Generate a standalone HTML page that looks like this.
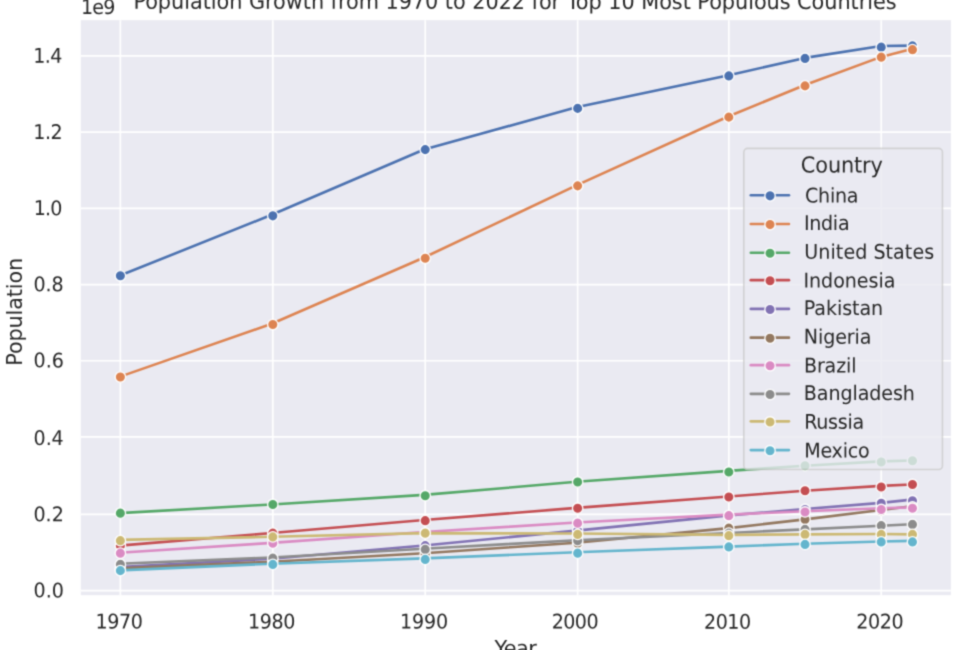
<!DOCTYPE html>
<html lang="en">
<head>
<meta charset="utf-8">
<title>Population Growth from 1970 to 2022 for Top 10 Most Populous Countries</title>
<style>
html, body { margin: 0; padding: 0; background: #ffffff; overflow: hidden; }
body { position: relative; width: 958px; height: 650px; overflow: hidden; font-family: "DejaVu Sans", "Liberation Sans", sans-serif; }
svg { display: block; position: absolute; left: -16px; top: -16px; }
</style>
</head>
<body>
<svg width="990" height="682" viewBox="-16 -16 990 682">
<defs><filter id="soften" filterUnits="userSpaceOnUse" x="-16" y="-16" width="990" height="682" color-interpolation-filters="sRGB"><feConvolveMatrix order="3" kernelMatrix="0.03422 0.11655 0.03422 0.11655 0.39690 0.11655 0.03422 0.11655 0.03422" edgeMode="duplicate" preserveAlpha="true"/></filter></defs>
<g id="chart" filter="url(#soften)">
<rect x="-16" y="-16" width="990" height="682" fill="#ffffff"/>
<rect id="axes-bg" x="80.858" y="20.146" width="870.029" height="575.03" fill="#eaeaf2"/>
<g id="grid" stroke="#ffffff" stroke-width="1.7" fill="none">
<line x1="120.375" y1="20.146" x2="120.375" y2="595.177"/>
<line x1="272.797" y1="20.146" x2="272.797" y2="595.177"/>
<line x1="425.219" y1="20.146" x2="425.219" y2="595.177"/>
<line x1="577.641" y1="20.146" x2="577.641" y2="595.177"/>
<line x1="728.813" y1="20.146" x2="728.813" y2="595.177"/>
<line x1="881.235" y1="20.146" x2="881.235" y2="595.177"/>
<line x1="80.858" y1="590.642" x2="950.887" y2="590.642"/>
<line x1="80.858" y1="514.431" x2="950.887" y2="514.431"/>
<line x1="80.858" y1="436.97" x2="950.887" y2="436.97"/>
<line x1="80.858" y1="360.759" x2="950.887" y2="360.759"/>
<line x1="80.858" y1="284.549" x2="950.887" y2="284.549"/>
<line x1="80.858" y1="208.338" x2="950.887" y2="208.338"/>
<line x1="80.858" y1="132.127" x2="950.887" y2="132.127"/>
<line x1="80.858" y1="55.916" x2="950.887" y2="55.916"/>
</g>
<g id="labels" font-family="'DejaVu Sans', 'Liberation Sans', sans-serif" fill="#262626">
<text id="t0" transform="translate(119.218 628.609) rotate(0.03) scale(1 1.06)" font-size="19.087" text-anchor="middle" textLength="47.533" lengthAdjust="spacing">1970</text>
<text id="t1" transform="translate(271.638 628.618) rotate(0.03) scale(1 1.06)" font-size="19.087" text-anchor="middle" textLength="47.533" lengthAdjust="spacing">1980</text>
<text id="t2" transform="translate(424.072 628.538) rotate(0.03) scale(1 1.06)" font-size="19.087" text-anchor="middle" textLength="47.929" lengthAdjust="spacing">1990</text>
<text id="t3" transform="translate(575.111 628.598) rotate(0.03) scale(1 1.06)" font-size="19.087" text-anchor="middle" textLength="46.898" lengthAdjust="spacing">2000</text>
<text id="t4" transform="translate(727.576 628.668) rotate(0.03) scale(1 1.06)" font-size="19.087" text-anchor="middle" textLength="47.138" lengthAdjust="spacing">2010</text>
<text id="t5" transform="translate(879.858 628.585) rotate(0.03) scale(1 1.06)" font-size="19.087" text-anchor="middle" textLength="47.379" lengthAdjust="spacing">2020</text>
<text id="t6" transform="translate(63.799 597.385) rotate(0.03) scale(1 1.06)" font-size="19.087" text-anchor="end" textLength="30.292" lengthAdjust="spacing">0.0</text>
<text id="t7" transform="translate(63.782 521.267) rotate(0.03) scale(1 1.06)" font-size="19.087" text-anchor="end" textLength="30.292" lengthAdjust="spacing">0.2</text>
<text id="t8" transform="translate(63.743 445.063) rotate(0.03) scale(1 1.06)" font-size="19.087" text-anchor="end" textLength="30.141" lengthAdjust="spacing">0.4</text>
<text id="t9" transform="translate(63.919 367.385) rotate(0.03) scale(1 1.06)" font-size="19.087" text-anchor="end" textLength="30.448" lengthAdjust="spacing">0.6</text>
<text id="t10" transform="translate(63.598 291.234) rotate(0.03) scale(1 1.06)" font-size="19.087" text-anchor="end" textLength="29.99" lengthAdjust="spacing">0.8</text>
<text id="t11" transform="translate(62.407 215.136) rotate(0.03) scale(1 1.06)" font-size="19.087" text-anchor="end" textLength="28.784" lengthAdjust="spacing">1.0</text>
<text id="t12" transform="translate(62.561 138.941) rotate(0.03) scale(1 1.06)" font-size="19.087" text-anchor="end" textLength="29.237" lengthAdjust="spacing">1.2</text>
<text id="t13" transform="translate(62.442 62.73) rotate(0.03) scale(1 1.06)" font-size="19.087" text-anchor="end" textLength="29.086" lengthAdjust="spacing">1.4</text>
<text id="t14" transform="translate(80.887 13.945) rotate(0.03) scale(1 1.06)" font-size="19.087" text-anchor="start" textLength="34.632" lengthAdjust="spacing">1e9</text>
<text id="t15" transform="translate(515.005 8.893) rotate(0.03) scale(1 1.06)" font-size="20.823" text-anchor="middle" textLength="763.203" lengthAdjust="spacing">Population Growth from 1970 to 2022 for Top 10 Most Populous Countries</text>
<text id="t16" transform="translate(515.605 655.927) rotate(0.03) scale(1 1.06)" font-size="20.823" text-anchor="middle" textLength="42.348" lengthAdjust="spacing">Year</text>
<text id="t17" transform="translate(22.431 311.753) rotate(-90) scale(1 1.06)" font-size="20.823" text-anchor="middle" textLength="107.762" lengthAdjust="spacing">Population</text>
</g>
<defs><clipPath id="axclip"><rect x="79.758" y="19.046" width="872.229" height="577.23"/></clipPath></defs>
<g id="series" clip-path="url(#axclip)">
<g id="s-china">
<polyline points="119.381,275.786 271.729,214.814 424.076,149.459 576.424,107.348 728.772,75.27 804.945,57.905 881.119,45.998 911.589,45.632" fill="none" stroke="#4c72b0" stroke-width="2.604" stroke-linecap="round" stroke-linejoin="round"/>
<circle cx="120.375" cy="275.803" r="5.208" fill="#4c72b0" stroke="#ffffff" stroke-width="1.302"/>
<circle cx="272.797" cy="215.834" r="5.208" fill="#4c72b0" stroke="#ffffff" stroke-width="1.302"/>
<circle cx="425.219" cy="149.618" r="5.208" fill="#4c72b0" stroke="#ffffff" stroke-width="1.302"/>
<circle cx="577.641" cy="108.389" r="5.208" fill="#4c72b0" stroke="#ffffff" stroke-width="1.302"/>
<circle cx="728.813" cy="75.905" r="5.208" fill="#4c72b0" stroke="#ffffff" stroke-width="1.302"/>
<circle cx="805.024" cy="58.414" r="5.208" fill="#4c72b0" stroke="#ffffff" stroke-width="1.302"/>
<circle cx="881.235" cy="47.17" r="5.208" fill="#4c72b0" stroke="#ffffff" stroke-width="1.302"/>
<circle cx="912.469" cy="45.921" r="5.208" fill="#4c72b0" stroke="#ffffff" stroke-width="1.302"/>
</g>
<g id="s-india">
<polyline points="119.381,376.884 271.729,323.737 424.076,257.507 576.424,185.342 728.772,116.306 804.945,84.93 881.119,56.886 911.589,48.957" fill="none" stroke="#dd8452" stroke-width="2.604" stroke-linecap="round" stroke-linejoin="round"/>
<circle cx="120.375" cy="377.001" r="5.208" fill="#dd8452" stroke="#ffffff" stroke-width="1.302"/>
<circle cx="272.797" cy="324.528" r="5.208" fill="#dd8452" stroke="#ffffff" stroke-width="1.302"/>
<circle cx="425.219" cy="258.312" r="5.208" fill="#dd8452" stroke="#ffffff" stroke-width="1.302"/>
<circle cx="577.641" cy="185.849" r="5.208" fill="#dd8452" stroke="#ffffff" stroke-width="1.302"/>
<circle cx="728.813" cy="117.134" r="5.208" fill="#dd8452" stroke="#ffffff" stroke-width="1.302"/>
<circle cx="805.024" cy="85.9" r="5.208" fill="#dd8452" stroke="#ffffff" stroke-width="1.302"/>
<circle cx="881.235" cy="57.165" r="5.208" fill="#dd8452" stroke="#ffffff" stroke-width="1.302"/>
<circle cx="912.469" cy="49.669" r="5.208" fill="#dd8452" stroke="#ffffff" stroke-width="1.302"/>
</g>
<g id="s-united-states">
<polyline points="119.381,513.13 271.729,504.429 424.076,494.914 576.424,481.824 728.772,470.844 804.945,465.723 881.119,461.4 911.589,460.504" fill="none" stroke="#55a868" stroke-width="2.604" stroke-linecap="round" stroke-linejoin="round"/>
<circle cx="120.375" cy="513.181" r="5.208" fill="#55a868" stroke="#ffffff" stroke-width="1.302"/>
<circle cx="272.797" cy="504.436" r="5.208" fill="#55a868" stroke="#ffffff" stroke-width="1.302"/>
<circle cx="425.219" cy="495.69" r="5.208" fill="#55a868" stroke="#ffffff" stroke-width="1.302"/>
<circle cx="577.641" cy="481.947" r="5.208" fill="#55a868" stroke="#ffffff" stroke-width="1.302"/>
<circle cx="728.813" cy="471.953" r="5.208" fill="#55a868" stroke="#ffffff" stroke-width="1.302"/>
<circle cx="805.024" cy="465.706" r="5.208" fill="#55a868" stroke="#ffffff" stroke-width="1.302"/>
<circle cx="881.235" cy="461.958" r="5.208" fill="#55a868" stroke="#ffffff" stroke-width="1.302"/>
<circle cx="912.469" cy="460.708" r="5.208" fill="#55a868" stroke="#ffffff" stroke-width="1.302"/>
</g>
<g id="s-indonesia">
<polyline points="119.381,545.592 271.729,533.024 424.076,520.061 576.424,507.888 728.772,496.465 804.945,490.714 881.119,485.845 911.589,484.455" fill="none" stroke="#c44e52" stroke-width="2.604" stroke-linecap="round" stroke-linejoin="round"/>
<circle cx="120.375" cy="545.665" r="5.208" fill="#c44e52" stroke="#ffffff" stroke-width="1.302"/>
<circle cx="272.797" cy="533.171" r="5.208" fill="#c44e52" stroke="#ffffff" stroke-width="1.302"/>
<circle cx="425.219" cy="520.678" r="5.208" fill="#c44e52" stroke="#ffffff" stroke-width="1.302"/>
<circle cx="577.641" cy="508.184" r="5.208" fill="#c44e52" stroke="#ffffff" stroke-width="1.302"/>
<circle cx="728.813" cy="496.94" r="5.208" fill="#c44e52" stroke="#ffffff" stroke-width="1.302"/>
<circle cx="805.024" cy="490.693" r="5.208" fill="#c44e52" stroke="#ffffff" stroke-width="1.302"/>
<circle cx="881.235" cy="486.945" r="5.208" fill="#c44e52" stroke="#ffffff" stroke-width="1.302"/>
<circle cx="912.469" cy="484.446" r="5.208" fill="#c44e52" stroke="#ffffff" stroke-width="1.302"/>
</g>
<g id="s-pakistan">
<polyline points="119.381,566.93 271.729,558.792 424.076,545.521 576.424,530.661 728.772,515.371 804.945,509.071 881.119,502.881 911.589,499.59" fill="none" stroke="#8172b3" stroke-width="2.604" stroke-linecap="round" stroke-linejoin="round"/>
<circle cx="120.375" cy="568.153" r="5.208" fill="#8172b3" stroke="#ffffff" stroke-width="1.302"/>
<circle cx="272.797" cy="559.408" r="5.208" fill="#8172b3" stroke="#ffffff" stroke-width="1.302"/>
<circle cx="425.219" cy="545.665" r="5.208" fill="#8172b3" stroke="#ffffff" stroke-width="1.302"/>
<circle cx="577.641" cy="530.672" r="5.208" fill="#8172b3" stroke="#ffffff" stroke-width="1.302"/>
<circle cx="728.813" cy="515.68" r="5.208" fill="#8172b3" stroke="#ffffff" stroke-width="1.302"/>
<circle cx="805.024" cy="509.433" r="5.208" fill="#8172b3" stroke="#ffffff" stroke-width="1.302"/>
<circle cx="881.235" cy="503.187" r="5.208" fill="#8172b3" stroke="#ffffff" stroke-width="1.302"/>
<circle cx="912.469" cy="500.688" r="5.208" fill="#8172b3" stroke="#ffffff" stroke-width="1.302"/>
</g>
<g id="s-nigeria">
<polyline points="119.381,568.35 271.729,561.719 424.076,553.227 576.424,542.684 728.772,528.15 804.945,519.36 881.119,510.079 911.589,506.183" fill="none" stroke="#937860" stroke-width="2.604" stroke-linecap="round" stroke-linejoin="round"/>
<circle cx="120.375" cy="569.403" r="5.208" fill="#937860" stroke="#ffffff" stroke-width="1.302"/>
<circle cx="272.797" cy="561.906" r="5.208" fill="#937860" stroke="#ffffff" stroke-width="1.302"/>
<circle cx="425.219" cy="554.41" r="5.208" fill="#937860" stroke="#ffffff" stroke-width="1.302"/>
<circle cx="577.641" cy="543.166" r="5.208" fill="#937860" stroke="#ffffff" stroke-width="1.302"/>
<circle cx="728.813" cy="528.174" r="5.208" fill="#937860" stroke="#ffffff" stroke-width="1.302"/>
<circle cx="805.024" cy="519.428" r="5.208" fill="#937860" stroke="#ffffff" stroke-width="1.302"/>
<circle cx="881.235" cy="510.683" r="5.208" fill="#937860" stroke="#ffffff" stroke-width="1.302"/>
<circle cx="912.469" cy="506.935" r="5.208" fill="#937860" stroke="#ffffff" stroke-width="1.302"/>
</g>
<g id="s-brazil">
<polyline points="119.381,552.786 271.729,542.899 424.076,532.059 576.424,522.459 728.772,514.647 804.945,511.276 881.119,508.222 911.589,507.414" fill="none" stroke="#da8bc3" stroke-width="2.604" stroke-linecap="round" stroke-linejoin="round"/>
<circle cx="120.375" cy="553.161" r="5.208" fill="#da8bc3" stroke="#ffffff" stroke-width="1.302"/>
<circle cx="272.797" cy="543.166" r="5.208" fill="#da8bc3" stroke="#ffffff" stroke-width="1.302"/>
<circle cx="425.219" cy="533.171" r="5.208" fill="#da8bc3" stroke="#ffffff" stroke-width="1.302"/>
<circle cx="577.641" cy="523.176" r="5.208" fill="#da8bc3" stroke="#ffffff" stroke-width="1.302"/>
<circle cx="728.813" cy="515.68" r="5.208" fill="#da8bc3" stroke="#ffffff" stroke-width="1.302"/>
<circle cx="805.024" cy="511.932" r="5.208" fill="#da8bc3" stroke="#ffffff" stroke-width="1.302"/>
<circle cx="881.235" cy="509.433" r="5.208" fill="#da8bc3" stroke="#ffffff" stroke-width="1.302"/>
<circle cx="912.469" cy="508.184" r="5.208" fill="#da8bc3" stroke="#ffffff" stroke-width="1.302"/>
</g>
<g id="s-bangladesh">
<polyline points="119.381,563.783 271.729,557.531 424.076,548.675 576.424,540.265 728.772,532.942 804.945,529.342 881.119,525.683 911.589,524.247" fill="none" stroke="#8c8c8c" stroke-width="2.604" stroke-linecap="round" stroke-linejoin="round"/>
<circle cx="120.375" cy="564.405" r="5.208" fill="#8c8c8c" stroke="#ffffff" stroke-width="1.302"/>
<circle cx="272.797" cy="558.158" r="5.208" fill="#8c8c8c" stroke="#ffffff" stroke-width="1.302"/>
<circle cx="425.219" cy="549.413" r="5.208" fill="#8c8c8c" stroke="#ffffff" stroke-width="1.302"/>
<circle cx="577.641" cy="540.667" r="5.208" fill="#8c8c8c" stroke="#ffffff" stroke-width="1.302"/>
<circle cx="728.813" cy="533.171" r="5.208" fill="#8c8c8c" stroke="#ffffff" stroke-width="1.302"/>
<circle cx="805.024" cy="529.423" r="5.208" fill="#8c8c8c" stroke="#ffffff" stroke-width="1.302"/>
<circle cx="881.235" cy="525.675" r="5.208" fill="#8c8c8c" stroke="#ffffff" stroke-width="1.302"/>
<circle cx="912.469" cy="524.426" r="5.208" fill="#8c8c8c" stroke="#ffffff" stroke-width="1.302"/>
</g>
<g id="s-russia">
<polyline points="119.381,539.922 271.729,536.808 424.076,533.089 576.424,533.532 728.772,534.906 804.945,534.362 881.119,534 911.589,534.345" fill="none" stroke="#ccb974" stroke-width="2.604" stroke-linecap="round" stroke-linejoin="round"/>
<circle cx="120.375" cy="540.667" r="5.208" fill="#ccb974" stroke="#ffffff" stroke-width="1.302"/>
<circle cx="272.797" cy="536.919" r="5.208" fill="#ccb974" stroke="#ffffff" stroke-width="1.302"/>
<circle cx="425.219" cy="533.171" r="5.208" fill="#ccb974" stroke="#ffffff" stroke-width="1.302"/>
<circle cx="577.641" cy="534.421" r="5.208" fill="#ccb974" stroke="#ffffff" stroke-width="1.302"/>
<circle cx="728.813" cy="535.67" r="5.208" fill="#ccb974" stroke="#ffffff" stroke-width="1.302"/>
<circle cx="805.024" cy="534.421" r="5.208" fill="#ccb974" stroke="#ffffff" stroke-width="1.302"/>
<circle cx="881.235" cy="534.421" r="5.208" fill="#ccb974" stroke="#ffffff" stroke-width="1.302"/>
<circle cx="912.469" cy="534.421" r="5.208" fill="#ccb974" stroke="#ffffff" stroke-width="1.302"/>
</g>
<g id="s-mexico">
<polyline points="119.381,570.364 271.729,563.72 424.076,558.374 576.424,552.212 728.772,546.621 804.945,543.715 881.119,541.484 911.589,540.91" fill="none" stroke="#64b5cd" stroke-width="2.604" stroke-linecap="round" stroke-linejoin="round"/>
<circle cx="120.375" cy="570.652" r="5.208" fill="#64b5cd" stroke="#ffffff" stroke-width="1.302"/>
<circle cx="272.797" cy="564.405" r="5.208" fill="#64b5cd" stroke="#ffffff" stroke-width="1.302"/>
<circle cx="425.219" cy="559.408" r="5.208" fill="#64b5cd" stroke="#ffffff" stroke-width="1.302"/>
<circle cx="577.641" cy="553.161" r="5.208" fill="#64b5cd" stroke="#ffffff" stroke-width="1.302"/>
<circle cx="728.813" cy="546.914" r="5.208" fill="#64b5cd" stroke="#ffffff" stroke-width="1.302"/>
<circle cx="805.024" cy="544.415" r="5.208" fill="#64b5cd" stroke="#ffffff" stroke-width="1.302"/>
<circle cx="881.235" cy="541.917" r="5.208" fill="#64b5cd" stroke="#ffffff" stroke-width="1.302"/>
<circle cx="912.469" cy="541.917" r="5.208" fill="#64b5cd" stroke="#ffffff" stroke-width="1.302"/>
</g>
</g>
<g id="legend">
<rect x="743.805" y="148.368" width="198.648" height="321.086" rx="3.8" fill="#eaeaf2" stroke="#cccccc" stroke-width="1.6" opacity="0.8"/>
<g font-family="'DejaVu Sans', 'Liberation Sans', sans-serif" fill="#262626">
<text id="t18" transform="translate(841.813 172.616) rotate(0.03) scale(1 1.06)" font-size="20.823" text-anchor="middle" textLength="81.89" lengthAdjust="spacing">Country</text>
<line x1="750.802" y1="195.219" x2="788.97" y2="195.219" stroke="#4c72b0" stroke-width="2.604" stroke-linecap="round"/>
<circle cx="770.042" cy="195.844" r="5.208" fill="#4c72b0" stroke="#ffffff" stroke-width="1.302"/>
<text id="t19" transform="translate(804.994 202.535) rotate(0.03) scale(1 1.06)" font-size="19.087" text-anchor="start" textLength="53.532" lengthAdjust="spacing">China</text>
<line x1="750.802" y1="223.955" x2="788.97" y2="223.955" stroke="#dd8452" stroke-width="2.604" stroke-linecap="round"/>
<circle cx="770.042" cy="224.579" r="5.208" fill="#dd8452" stroke="#ffffff" stroke-width="1.302"/>
<text id="t20" transform="translate(803.894 230.063) rotate(0.03) scale(1 1.06)" font-size="19.087" text-anchor="start" textLength="45.68" lengthAdjust="spacing">India</text>
<line x1="750.802" y1="252.69" x2="788.97" y2="252.69" stroke="#55a868" stroke-width="2.604" stroke-linecap="round"/>
<circle cx="770.042" cy="253.315" r="5.208" fill="#55a868" stroke="#ffffff" stroke-width="1.302"/>
<text id="t21" transform="translate(804.354 258.768) rotate(0.03) scale(1 1.06)" font-size="19.087" text-anchor="start" textLength="129.777" lengthAdjust="spacing">United States</text>
<line x1="750.802" y1="280.176" x2="788.97" y2="280.176" stroke="#c44e52" stroke-width="2.604" stroke-linecap="round"/>
<circle cx="770.042" cy="280.8" r="5.208" fill="#c44e52" stroke="#ffffff" stroke-width="1.302"/>
<text id="t22" transform="translate(803.44 287.557) rotate(0.03) scale(1 1.06)" font-size="19.087" text-anchor="start" textLength="91.99" lengthAdjust="spacing">Indonesia</text>
<line x1="750.802" y1="308.911" x2="788.97" y2="308.911" stroke="#8172b3" stroke-width="2.604" stroke-linecap="round"/>
<circle cx="770.042" cy="309.536" r="5.208" fill="#8172b3" stroke="#ffffff" stroke-width="1.302"/>
<text id="t23" transform="translate(803.778 315.075) rotate(0.03) scale(1 1.06)" font-size="19.087" text-anchor="start" textLength="79.314" lengthAdjust="spacing">Pakistan</text>
<line x1="750.802" y1="337.646" x2="788.97" y2="337.646" stroke="#937860" stroke-width="2.604" stroke-linecap="round"/>
<circle cx="770.042" cy="338.271" r="5.208" fill="#937860" stroke="#ffffff" stroke-width="1.302"/>
<text id="t24" transform="translate(803.834 343.623) rotate(0.03) scale(1 1.06)" font-size="19.087" text-anchor="start" textLength="67.53" lengthAdjust="spacing">Nigeria</text>
<line x1="750.802" y1="365.132" x2="788.97" y2="365.132" stroke="#da8bc3" stroke-width="2.604" stroke-linecap="round"/>
<circle cx="770.042" cy="365.757" r="5.208" fill="#da8bc3" stroke="#ffffff" stroke-width="1.302"/>
<text id="t25" transform="translate(803.941 372.43) rotate(0.03) scale(1 1.06)" font-size="19.087" text-anchor="start" textLength="52.609" lengthAdjust="spacing">Brazil</text>
<line x1="750.802" y1="393.868" x2="788.97" y2="393.868" stroke="#8c8c8c" stroke-width="2.604" stroke-linecap="round"/>
<circle cx="770.042" cy="394.492" r="5.208" fill="#8c8c8c" stroke="#ffffff" stroke-width="1.302"/>
<text id="t26" transform="translate(803.828 400.078) rotate(0.03) scale(1 1.06)" font-size="19.087" text-anchor="start" textLength="111.009" lengthAdjust="spacing">Bangladesh</text>
<line x1="750.802" y1="421.353" x2="788.97" y2="421.353" stroke="#ccb974" stroke-width="2.604" stroke-linecap="round"/>
<circle cx="770.042" cy="421.978" r="5.208" fill="#ccb974" stroke="#ffffff" stroke-width="1.302"/>
<text id="t27" transform="translate(804.185 428.715) rotate(0.03) scale(1 1.06)" font-size="19.087" text-anchor="start" textLength="59.993" lengthAdjust="spacing">Russia</text>
<line x1="750.802" y1="450.089" x2="788.97" y2="450.089" stroke="#64b5cd" stroke-width="2.604" stroke-linecap="round"/>
<circle cx="770.042" cy="450.713" r="5.208" fill="#64b5cd" stroke="#ffffff" stroke-width="1.302"/>
<text id="t28" transform="translate(804.176 457.384) rotate(0.03) scale(1 1.06)" font-size="19.087" text-anchor="start" textLength="65.504" lengthAdjust="spacing">Mexico</text>
</g></g>
</g>
</svg>
</body>
</html>
